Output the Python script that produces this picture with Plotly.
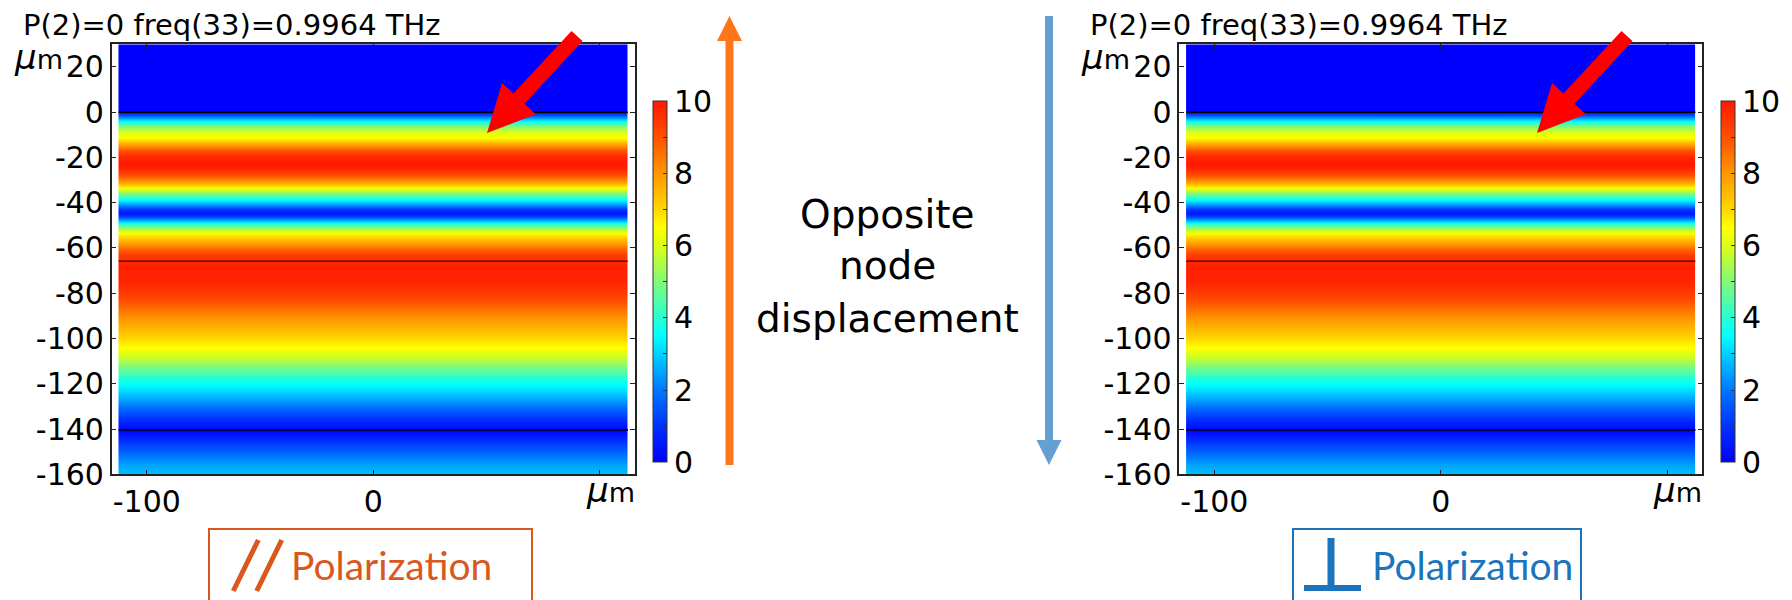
import plotly.graph_objects as go

W, H = 1792, 600

# ---------------- data ----------------
y_nodes = [30, 0.5, 0, -1, -2.5, -4, -6, -8.5, -11.5, -14, -17, -20, -22.5, -25, -28,
           -31, -33, -35.5, -38.5, -41, -43, -44.5, -46, -48, -50.5, -53.5, -56.5,
           -60, -63, -65.8, -68, -75, -82, -88, -93, -99, -104, -109, -114, -118,
           -122.5, -127, -133, -137, -140.5, -143, -147, -152, -156, -160]
field = [0, 0, 0.3, 1.2, 2.6, 3.6, 4.8, 5.9, 6.6, 7.8, 9.0, 9.8, 10.0, 9.8, 9.0,
         7.8, 6.6, 5.2, 3.6, 2.2, 1.0, 0.5, 1.2, 3.0, 4.8, 6.5, 7.5,
         8.6, 9.3, 9.7, 9.9, 9.8, 9.2, 8.4, 7.8, 7.1, 6.5, 5.6, 4.6, 3.8,
         3.2, 2.5, 1.4, 0.7, 0.1, 0.6, 1.3, 2.0, 2.5, 2.8]
x_edges = [-112.5, 0, 112.5]
boundaries = [0, -65.8, -140.4]
y_ticks = [20, 0, -20, -40, -60, -80, -100, -120, -140, -160]
y_ticktext = ["20", "0", "-20", "-40", "-60", "-80", "-100", "-120", "-140", "-160"]
x_ticks = [-100, 0, 100]
x_ticktext = ["-100", "0", ""]
cb_ticks = [0, 1, 2, 3, 4, 5, 6, 7, 8, 9, 10]
cb_ticktext = ["0", "", "2", "", "4", "", "6", "", "8", "", "10"]
title_text = "P(2)=0 freq(33)=0.9964 THz"
middle_lines = ["Opposite", "node", "displacement"]

colorscale = [
    [0.0, "rgb(0,0,255)"], [0.1, "rgb(0,50,255)"], [0.2, "rgb(0,120,255)"],
    [0.3, "rgb(0,210,255)"], [0.35, "rgb(0,255,255)"], [0.4, "rgb(40,255,210)"],
    [0.5, "rgb(130,250,120)"], [0.6, "rgb(220,255,20)"], [0.65, "rgb(255,255,0)"],
    [0.7, "rgb(255,215,0)"], [0.8, "rgb(255,150,0)"], [0.9, "rgb(255,80,0)"],
    [1.0, "rgb(255,25,0)"],
]

FONT = "DejaVu Sans"
ORANGE = "rgb(217,88,30)"
BLUE = "rgb(28,117,188)"
ARROW_ORANGE = "rgb(255,118,26)"
ARROW_BLUE = "rgb(100,160,212)"

z = [[v, v] for v in field]

OFFSET = 1067.6  # pixel shift of right panel
panels = [
    dict(x0=111.7, x1=634.7, cb_x=653.3, ax="", arrow_tail=(577, 36), arrow_tip=(487, 133)),
    dict(x0=111.7 + OFFSET, x1=634.7 + OFFSET, cb_x=653.3 + OFFSET, ax="2",
         arrow_tail=(1627, 36), arrow_tip=(1537, 133)),
]
FRAME_TOP, FRAME_BOT = 44.3, 474.3


def px(x, y):
    return x / W, 1 - y / H


def arrow_path(tail, tip, sw, hw, hl):
    tx, ty = tail
    px_, py_ = tip
    dx, dy = px_ - tx, py_ - ty
    L = (dx * dx + dy * dy) ** 0.5
    ux, uy = dx / L, dy / L
    nx, ny = -uy, ux
    bx, by = px_ - ux * hl, py_ - uy * hl
    pts = [
        (tx + nx * sw / 2, ty + ny * sw / 2),
        (bx + nx * sw / 2, by + ny * sw / 2),
        (bx + nx * hw / 2, by + ny * hw / 2),
        (px_, py_),
        (bx - nx * hw / 2, by - ny * hw / 2),
        (bx - nx * sw / 2, by - ny * sw / 2),
        (tx - nx * sw / 2, ty - ny * sw / 2),
    ]
    s = ""
    for i, (a, b) in enumerate(pts):
        pa, pb = px(a, b)
        s += ("M" if i == 0 else "L") + f"{pa:.6f},{pb:.6f}"
    return s + "Z"


fig = go.Figure()
shapes = []
annotations = []
layout = dict(
    width=W, height=H, autosize=False,
    margin=dict(l=0, r=0, t=0, b=0, pad=0, autoexpand=False),
    paper_bgcolor="white", plot_bgcolor="white",
    font=dict(family=FONT, size=29, color="black"),
    showlegend=False,
)

for p in panels:
    ax = p["ax"]
    xa, ya = "x" + ax, "y" + ax
    fig.add_trace(go.Heatmap(
        x=x_edges, y=y_nodes, z=z, zmin=0, zmax=10, zsmooth="best",
        colorscale=colorscale, xaxis=xa, yaxis=ya, hoverinfo="skip",
        colorbar=dict(
            x=p["cb_x"] / W, xanchor="left", xpad=0,
            y=1 - 281.7 / H, yanchor="middle", ypad=0,
            len=361, lenmode="pixels", thickness=13.5,
            outlinewidth=1, outlinecolor="#333",
            tickvals=cb_ticks, ticktext=cb_ticktext,
            ticks="inside", ticklen=4, tickcolor="#333",
            tickfont=dict(family=FONT, size=30, color="black"),
        ),
    ))
    layout["xaxis" + ax] = dict(
        domain=[p["x0"] / W, p["x1"] / W], range=[-115.5, 115.5], anchor=ya,
        tickvals=x_ticks, ticktext=x_ticktext, ticks="inside", ticklen=5,
        tickcolor="#222", showline=True, mirror="ticks", linecolor="#222", linewidth=1.5,
        showgrid=False, zeroline=False, tickfont=dict(size=30), fixedrange=True,
        automargin=False,
    )
    layout["yaxis" + ax] = dict(
        domain=[1 - FRAME_BOT / H, 1 - FRAME_TOP / H], range=[-160, 30], anchor=xa,
        tickvals=y_ticks, ticktext=y_ticktext, ticks="inside", ticklen=5, tickcolor="#222",
        showline=True, mirror="ticks", linecolor="#222", linewidth=1.5,
        showgrid=False, zeroline=False, tickfont=dict(size=30), fixedrange=True,
        automargin=False,
    )
    for i, b in enumerate(boundaries):
        shapes.append(dict(
            type="line", xref=xa, yref=ya, x0=x_edges[0], x1=x_edges[-1], y0=b, y1=b,
            line=dict(color="rgb(0,0,70)" if i == 2 else "black", width=[1.5, 1, 2][i]),
        ))
    # red arrow
    shapes.append(dict(type="path", xref="paper", yref="paper",
                       path=arrow_path(p["arrow_tail"], p["arrow_tip"], 15, 46, 47),
                       fillcolor="rgb(255,0,0)", line=dict(width=0)))
    # title
    tx, ty = px(p["x0"] - 91, 25)
    annotations.append(dict(text=title_text, x=tx, y=ty, xref="paper", yref="paper",
                            xanchor="left", yanchor="middle", showarrow=False,
                            font=dict(family=FONT, size=29, color="black")))
    # y unit
    ux, uy = px(p["x0"] - 100, 57)
    annotations.append(dict(text='<span style="font-size:34px"><i>μ</i></span>m',
                            x=ux, y=uy, xref="paper", yref="paper",
                            xanchor="left", yanchor="middle", showarrow=False,
                            font=dict(family=FONT, size=27, color="black")))
    # x unit
    ux, uy = px(p["x1"] + 2, 490)
    annotations.append(dict(text='<span style="font-size:34px"><i>μ</i></span>m',
                            x=ux, y=uy, xref="paper", yref="paper",
                            xanchor="right", yanchor="middle", showarrow=False,
                            font=dict(family=FONT, size=27, color="black")))

# big vertical arrows
shapes.append(dict(type="path", xref="paper", yref="paper",
                   path=arrow_path((729.5, 465), (729.5, 16), 8, 25, 25),
                   fillcolor=ARROW_ORANGE, line=dict(width=0)))
shapes.append(dict(type="path", xref="paper", yref="paper",
                   path=arrow_path((1049, 16), (1049, 465), 8, 25, 25),
                   fillcolor=ARROW_BLUE, line=dict(width=0)))

# middle text
for txt, yy in zip(middle_lines, [214, 265, 318]):
    ax_, ay_ = px(887, yy)
    annotations.append(dict(text=txt, x=ax_, y=ay_, xref="paper", yref="paper",
                            xanchor="center", yanchor="middle", showarrow=False,
                            font=dict(family=FONT, size=39, color="black")))

# polarization boxes
def rect(x0, y0, x1, y1, color):
    a0, b0 = px(x0, y0)
    a1, b1 = px(x1, y1)
    return dict(type="rect", xref="paper", yref="paper", x0=a0, y0=b0, x1=a1, y1=b1,
                line=dict(color=color, width=2), fillcolor="rgba(0,0,0,0)")


def seg(x0, y0, x1, y1, color, w):
    a0, b0 = px(x0, y0)
    a1, b1 = px(x1, y1)
    return dict(type="line", xref="paper", yref="paper", x0=a0, y0=b0, x1=a1, y1=b1,
                line=dict(color=color, width=w))


shapes.append(rect(209, 529, 532, 602, ORANGE))
shapes.append(seg(258.3, 540, 233.3, 591, ORANGE, 5))
shapes.append(seg(281.7, 540, 256.7, 591, ORANGE, 5))
shapes.append(rect(1293, 529, 1581, 602, BLUE))
shapes.append(seg(1331, 538, 1331, 586, BLUE, 7))
shapes.append(seg(1304, 588, 1361, 588, BLUE, 6))

for x0, col in [(289, ORANGE), (1370, BLUE)]:
    ax_, ay_ = px(x0, 565)
    annotations.append(dict(text="Polarization", x=ax_, y=ay_, xref="paper", yref="paper",
                            xanchor="left", yanchor="middle", showarrow=False,
                            font=dict(family="Lato", size=39, color=col)))

layout["shapes"] = shapes
layout["annotations"] = annotations
fig.update_layout(**layout)
fig.write_html("out.html")
